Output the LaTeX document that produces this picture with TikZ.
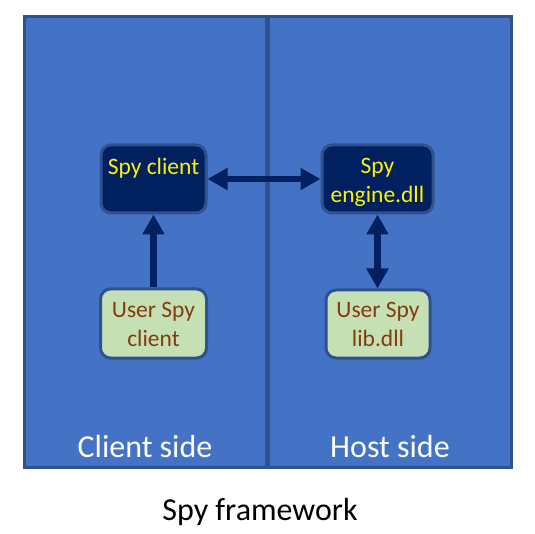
\documentclass[tikz,border=0pt]{standalone}
\usepackage{fontspec}
\setmainfont{Carlito}
\usetikzlibrary{arrows.meta}
\definecolor{panelfill}{HTML}{4472C4}
\definecolor{panelline}{HTML}{2F528F}
\definecolor{navy}{HTML}{002060}
\definecolor{greenfill}{HTML}{C5E0B4}
\definecolor{browntext}{HTML}{843C0C}
\tikzset{
  panel/.style={draw=panelline, fill=panelfill, line width=3pt},
  divider/.style={draw=panelline, line width=5pt},
  darkbox/.style={draw=panelline, fill=navy, line width=3pt, rounded corners=10pt, inner sep=0pt},
  greenbox/.style={draw=panelline, fill=greenfill, line width=3pt, rounded corners=10pt, inner sep=0pt},
  ytext/.style={text=yellow, font=\fontsize{23.5}{29}\selectfont, anchor=base, inner sep=0pt},
  btext/.style={text=browntext, font=\fontsize{23.5}{29}\selectfont, anchor=base, inner sep=0pt},
  sidetext/.style={text=white, font=\fontsize{32}{38}\selectfont, anchor=base, inner sep=0pt},
  titletext/.style={text=black, font=\fontsize{32}{38}\selectfont, anchor=base, inner sep=0pt},
  arr/.style={draw=navy, line width=6.5pt, -{Triangle[length=20pt,width=21pt]}},
  darr/.style={draw=navy, line width=6.5pt, {Triangle[length=20pt,width=21pt]}-{Triangle[length=20pt,width=21pt]}},
}
\begin{document}
\begin{tikzpicture}[x=1pt,y=-1pt]
\useasboundingbox (0,0) rectangle (535,534);
% panels
\draw[panel] (24.5,16.5) rectangle (267.3,467.7);
\draw[panel] (267.3,16.5) rectangle (511.5,467.7);
\coordinate (dtop) at (267.3,16.5);
\coordinate (dbot) at (267.3,467.7);
\draw[divider] (dtop) -- (dbot);
% boxes
\node[darkbox, minimum width=105pt, minimum height=68pt] (sc) at (153.5,179) {};
\node[darkbox, minimum width=111pt, minimum height=68pt] (se) at (377.5,179) {};
\node[greenbox, minimum width=106pt, minimum height=69pt] (usc) at (153.5,323.5) {};
\node[greenbox, minimum width=104pt, minimum height=68pt] (usl) at (378,324) {};
% texts
\node[ytext] (sct) at (153.5,175) {Spy client};
\node[ytext] (se1) at (377.5,174) {Spy};
\node[ytext] (se2) at (377.5,202.5) {engine.dll};
\node[btext] (usc1) at (153.5,317.5) {User Spy};
\node[btext] (usc2) at (153.5,346.5) {client};
\node[btext] (usl1) at (378,317.5) {User Spy};
\node[btext] (usl2) at (378,346.5) {lib.dll};
\node[sidetext] (cs) at (145,457) {Client side};
\node[sidetext] (hs) at (390,457) {Host side};
\node[titletext] (tt) at (260,520.5) {Spy framework};
% arrows
\draw[darr] (sc.east) -- (se.west);
\draw[arr] (usc.north) -- (sc.south);
\draw[darr] (se.south) -- (se.south |- usl.north);
\end{tikzpicture}
\end{document}
